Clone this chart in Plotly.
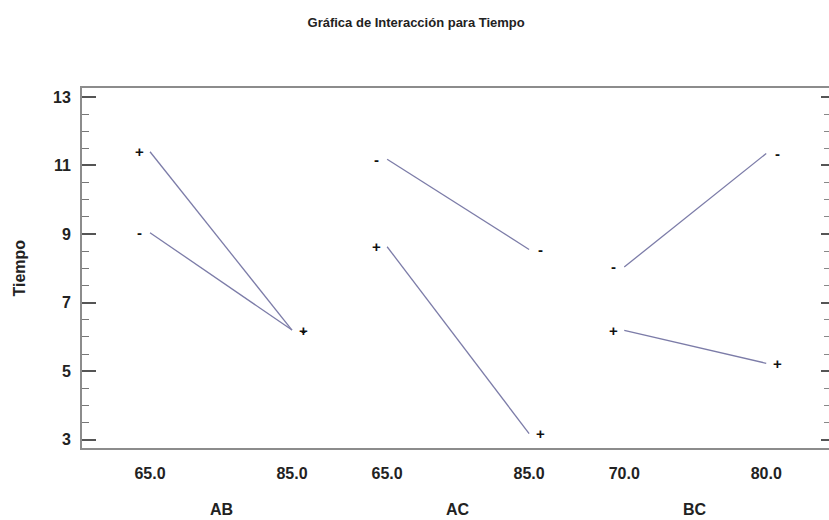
import plotly.graph_objects as go

# ---- data ----
title_text = "Gráfica de Interacción para Tiempo"
y_title = "Tiempo"
panels = ["AB", "AC", "BC"]
levels = [["65.0", "85.0"], ["65.0", "85.0"], ["70.0", "80.0"]]
plus_values = [[11.4, 6.2], [8.63, 3.18], [6.19, 5.23]]
minus_values = [[9.04, 6.2], [11.18, 8.55], [8.04, 11.35]]
y_ticks = [3, 5, 7, 9, 11, 13]

# ---- layout helpers ----
panel_gap = 1.67  # spacing between panels in axis units
line_color = "#7c7ca8"
font_family = "Liberation Sans, Arial, sans-serif"

fig = go.Figure()
annotations = []
tickvals, ticktext = [], []

for p, name in enumerate(panels):
    xs = [p * panel_gap + i for i in range(len(levels[p]))]
    tickvals += xs
    ticktext += ["<b>%s</b>" % l for l in levels[p]]
    for sign, vals in (("+", plus_values[p]), ("-", minus_values[p])):
        fig.add_trace(go.Scatter(
            x=xs, y=vals, mode="lines",
            line=dict(color=line_color, width=1.3),
            showlegend=False, hoverinfo="skip"))
        for j, (xv, yv) in enumerate(zip(xs, vals)):
            annotations.append(dict(
                x=xv, y=yv, xref="x", yref="y", text="<b>%s</b>" % sign,
                showarrow=False, xshift=-11 if j == 0 else 11,
                font=dict(size=15, color="#111", family=font_family),
                xanchor="center", yanchor="middle"))
    annotations.append(dict(
        x=sum(xs) / len(xs), y=-0.172, xref="x", yref="paper",
        text="<b>%s</b>" % name, showarrow=False,
        font=dict(size=16, color="#222", family=font_family),
        xanchor="center", yanchor="middle"))

annotations.append(dict(
    x=-0.085, y=0.5, xref="paper", yref="paper", text="<b>%s</b>" % y_title,
    textangle=-90, showarrow=False,
    font=dict(size=16, color="#222", family=font_family),
    xanchor="center", yanchor="middle"))

yr = [2.76, 13.26]
fig.update_layout(
    width=829, height=520,
    margin=dict(l=82, r=0, t=88, b=72),
    paper_bgcolor="white", plot_bgcolor="white",
    title=dict(text="<b>%s</b>" % title_text, x=0.502, xanchor="center",
               y=1 - 22 / 520, yanchor="middle",
               font=dict(size=13, color="#222", family=font_family)),
    xaxis=dict(range=[-0.479, 4.782], tickvals=tickvals, ticktext=ticktext,
               showgrid=False, zeroline=False, ticks="",
               showline=True, linecolor="#8c8c8c", linewidth=2, mirror=True,
               ticklabelstandoff=10,
               tickfont=dict(size=16, color="#222", family=font_family)),
    yaxis=dict(range=yr, tickvals=y_ticks,
               ticktext=["<b>%d</b>" % v for v in y_ticks],
               showgrid=False, zeroline=False,
               ticks="inside", ticklen=14, tickwidth=1.5, tickcolor="#555",
               minor=dict(dtick=0.5, ticks="inside", ticklen=7,
                          tickcolor="#777", tickwidth=1, showgrid=False),
               showline=True, linecolor="#8c8c8c", linewidth=2,
               ticklabelstandoff=6,
               tickfont=dict(size=16, color="#222", family=font_family)),
    yaxis2=dict(range=yr, overlaying="y", side="right", tickvals=y_ticks,
                showticklabels=False, showgrid=False, zeroline=False,
                ticks="inside", ticklen=8, tickwidth=1.5, tickcolor="#555",
                minor=dict(dtick=0.5, ticks="inside", ticklen=5,
                           tickcolor="#888", tickwidth=1, showgrid=False),
                showline=True, linecolor="#8c8c8c", linewidth=2),
    annotations=annotations,
)
# dummy trace to activate the right axis
fig.add_trace(go.Scatter(x=[None], y=[None], yaxis="y2", showlegend=False,
                         hoverinfo="skip"))

fig.write_html("out.html")
